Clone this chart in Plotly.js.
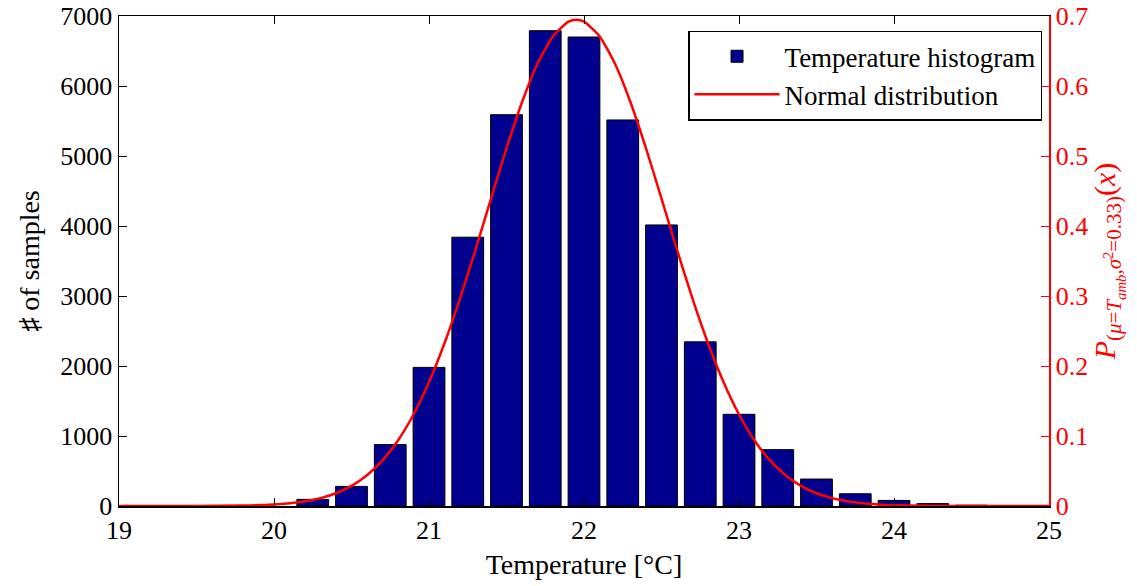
<!DOCTYPE html>
<html>
<head>
<meta charset="utf-8">
<script src="https://cdn.plot.ly/plotly-3.0.1.min.js"></script>
<style>html,body{margin:0;padding:0;background:#fff;}#chart{width:1137px;height:586px;}</style>
</head>
<body>
<div id="chart"></div>
<script>
// Histogram bins (centres, °C) and counts
const binCenters = [20.25, 20.5, 20.75, 21.0, 21.25, 21.5, 21.75, 22.0, 22.25, 22.5, 22.75, 23.0, 23.25, 23.5, 23.75, 24.0, 24.25, 24.5];
const binCounts  = [95, 280, 877, 1980, 3840, 5590, 6790, 6700, 5515, 4015, 2345, 1310, 805, 385, 175, 80, 35, 12];

// Normal distribution curve
const curveX = [19.0, 19.5, 19.8, 20.0, 20.1, 20.2, 20.3, 20.4, 20.5, 20.6, 20.7, 20.8, 20.9, 21.0, 21.1, 21.2, 21.3, 21.4, 21.5, 21.6, 21.7, 21.8, 21.9, 21.95, 22.0, 22.1, 22.2, 22.3, 22.4, 22.5, 22.6, 22.7, 22.8, 22.9, 23.0, 23.1, 23.2, 23.3, 23.4, 23.5, 23.6, 23.7, 23.8, 23.9, 24.0, 24.2, 24.5, 25.0];
const curveY = [0.0, 0.0001, 0.0006, 0.0022, 0.0039, 0.0067, 0.0112, 0.0182, 0.0287, 0.0439, 0.0651, 0.0936, 0.1307, 0.1770, 0.2325, 0.2962, 0.3661, 0.4392, 0.5110, 0.5768, 0.6318, 0.6712, 0.6919, 0.6945, 0.6919, 0.6712, 0.6318, 0.5768, 0.5110, 0.4392, 0.3661, 0.2962, 0.2325, 0.1770, 0.1307, 0.0936, 0.0651, 0.0439, 0.0287, 0.0182, 0.0112, 0.0067, 0.0039, 0.0022, 0.0012, 0.0003, 0.0, 0.0];

const xTicks = [19, 20, 21, 22, 23, 24, 25];
const yTicks = [0, 1000, 2000, 3000, 4000, 5000, 6000, 7000];
const y2Ticks = [0, 0.1, 0.2, 0.3, 0.4, 0.5, 0.6, 0.7];

const FONT = '"Liberation Serif", "DejaVu Serif", serif';
const FS = 26;
const FT = 28;

const traces = [
  {
    type: 'bar',
    name: 'Temperature histogram',
    x: binCenters,
    y: binCounts,
    width: 0.205,
    marker: {color: '#00008F', line: {color: '#000000', width: 1}},
    yaxis: 'y'
  },
  {
    type: 'scatter',
    mode: 'lines',
    name: 'Normal distribution',
    x: curveX,
    y: curveY,
    line: {color: '#FF0000', width: 2.5, shape: 'spline', smoothing: 0.6},
    yaxis: 'y2'
  }
];

const layout = {
  width: 1137,
  height: 586,
  margin: {l: 119, r: 88, t: 16, b: 80},
  paper_bgcolor: '#ffffff',
  plot_bgcolor: '#ffffff',
  font: {family: FONT, size: FS, color: '#000000'},
  showlegend: true,
  legend: {
    x: 0.9925, y: 0.97, xanchor: 'right', yanchor: 'top',
    bgcolor: '#ffffff', bordercolor: '#000000', borderwidth: 1.5,
    font: {family: FONT, size: 27, color: '#000000'},
    itemwidth: 85,
    tracegroupgap: 0
  },
  xaxis: {
    range: [19, 25],
    tickvals: xTicks,
    ticktext: xTicks.map(String),
    ticks: 'inside', ticklen: 8, tickcolor: '#000', tickwidth: 1,
    showline: true, linecolor: '#000', linewidth: 1.5, mirror: 'ticks',
    showgrid: false, zeroline: false,
    tickfont: {family: FONT, size: FS, color: '#000'},
    title: {text: 'Temperature [°C]', font: {family: FONT, size: FT}, standoff: 10}
  },
  yaxis: {
    range: [0, 7000],
    tickvals: yTicks,
    ticktext: yTicks.map(String),
    ticks: 'inside', ticklen: 8, tickcolor: '#000', tickwidth: 1,
    showline: true, linecolor: '#000', linewidth: 1.5,
    showgrid: false, zeroline: false,
    tickfont: {family: FONT, size: FS, color: '#000'},
    title: {text: '♯ of samples', font: {family: FONT, size: FT}, standoff: 12}
  },
  yaxis2: {
    range: [0, 0.7],
    overlaying: 'y',
    side: 'right',
    tickvals: y2Ticks,
    ticktext: y2Ticks.map(v => v === 0 ? '0' : String(v)),
    ticks: 'inside', ticklen: 8, tickcolor: '#FF0000', tickwidth: 1,
    tickfont: {family: FONT, size: FS, color: '#FF0000'},
    showline: true, linecolor: '#FF0000', linewidth: 1.5,
    showgrid: false, zeroline: false,
    title: {
      text: '<i>P</i><sub>(<i>μ</i>=<i>T</i><sub><i>amb</i></sub>,<i>σ</i><sup>2</sup>=0.33)</sub>(<i>x</i>)',
      font: {family: FONT, size: 30, color: '#FF0000'},
      standoff: 6
    }
  }
};

Plotly.newPlot('chart', traces, layout, {displayModeBar: false, staticPlot: true});
</script>
</body>
</html>
